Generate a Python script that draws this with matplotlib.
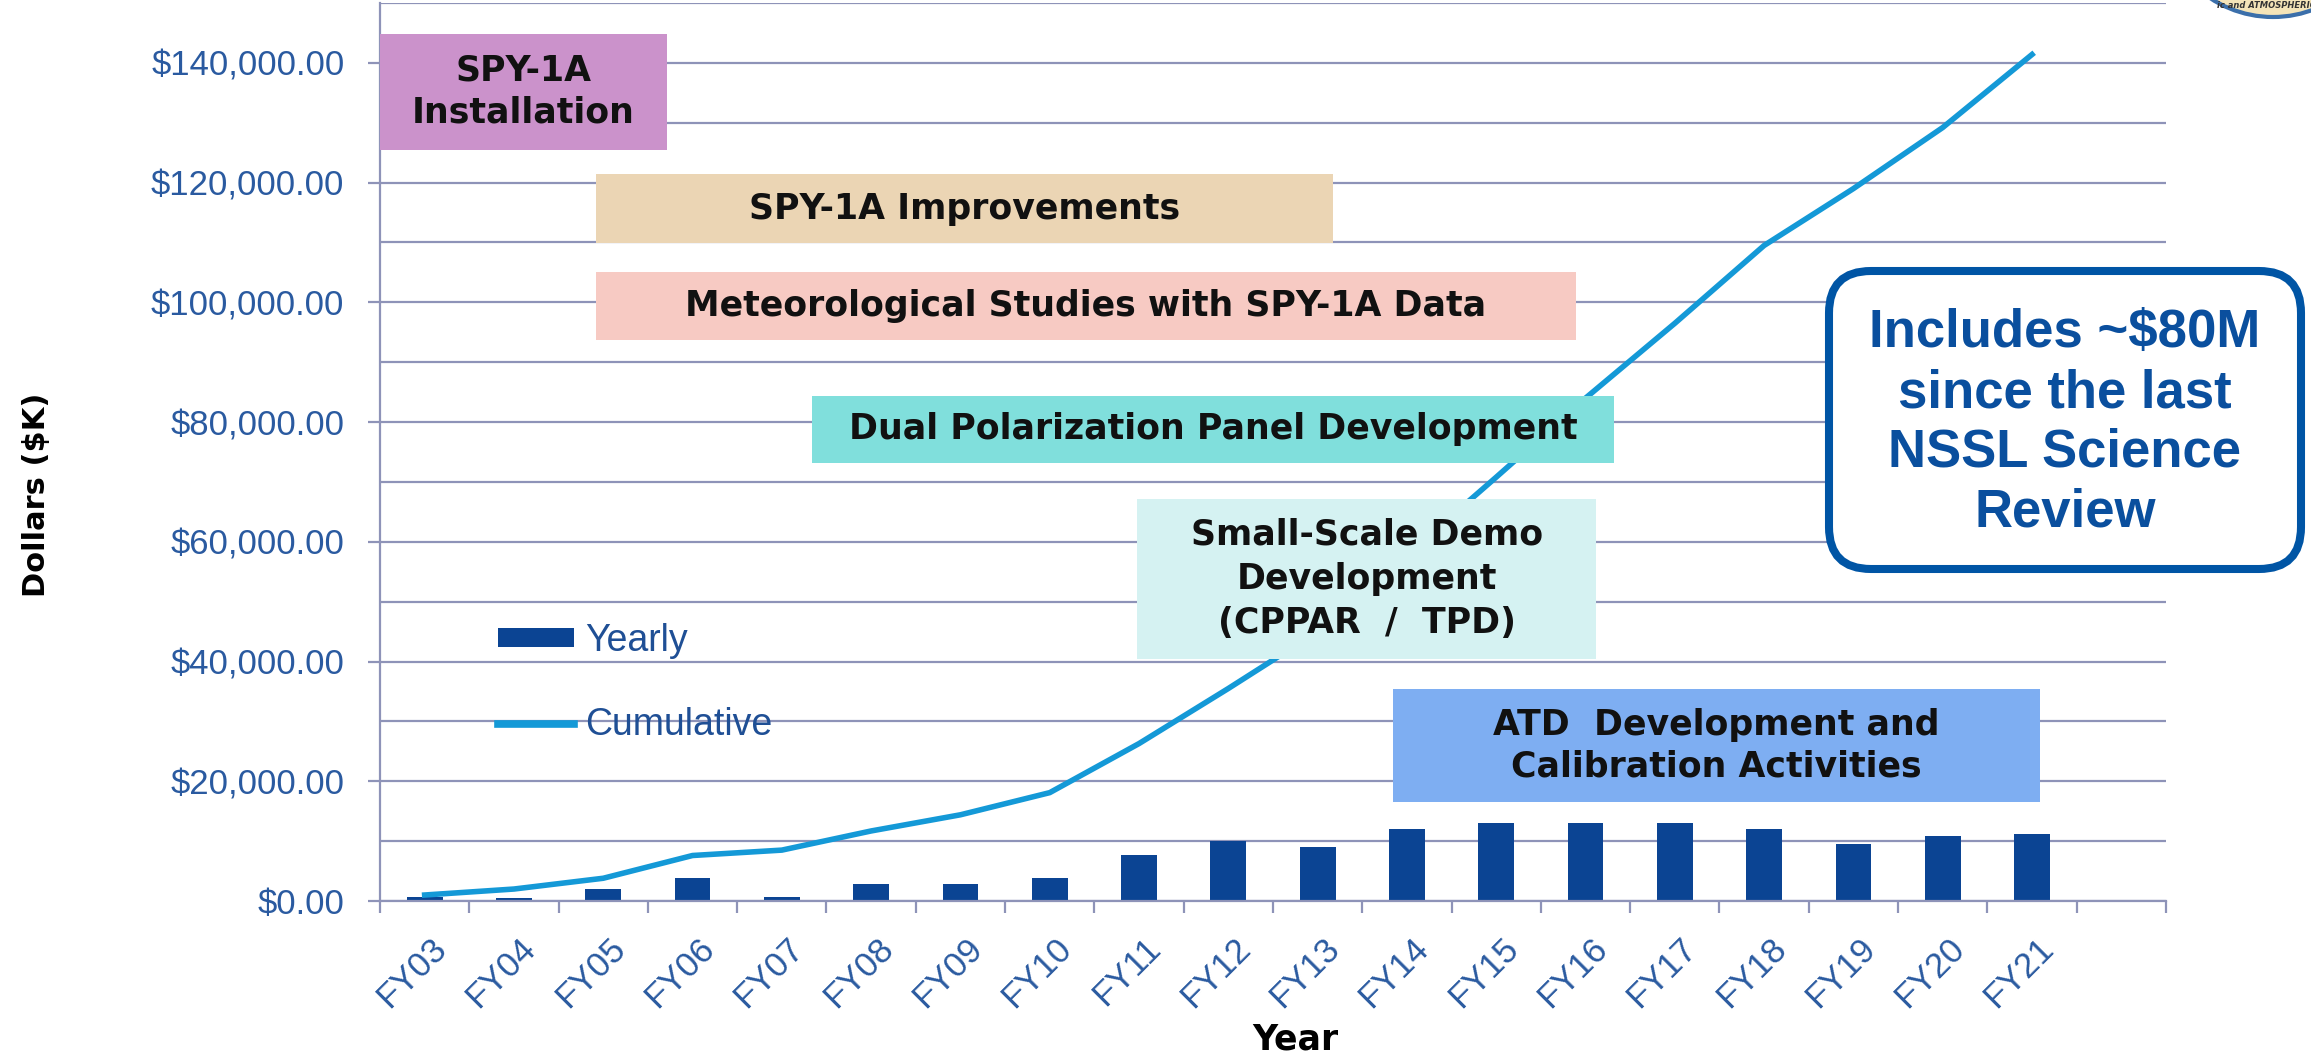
import numpy as np
import matplotlib
matplotlib.use("Agg")
import matplotlib.pyplot as plt
from matplotlib.patches import Rectangle, FancyBboxPatch, Circle
from matplotlib.ticker import FixedLocator, MultipleLocator, FuncFormatter
from matplotlib.transforms import ScaledTranslation

# data (values in $K)
years = ['FY03', 'FY04', 'FY05', 'FY06', 'FY07', 'FY08', 'FY09', 'FY10', 'FY11', 'FY12',
         'FY13', 'FY14', 'FY15', 'FY16', 'FY17', 'FY18', 'FY19', 'FY20', 'FY21']
yearly = [700, 500, 2000, 3800, 600, 2900, 2900, 3800, 7700, 10000,
          9100, 12100, 13000, 13000, 13000, 12100, 9500, 10800, 11200]
cumulative = [1000, 2000, 3800, 7600, 8500, 11700, 14400, 18100, 26300, 35500,
              45000, 57800, 70800, 84000, 96500, 109500, 119000, 129200, 141400]

# program phases drawn as boxes: (text, x from, x to, y from, y to, colour)
phases = [
    ('SPY-1A\nInstallation', -0.5, 2.71, 125500, 144800, '#CB92CB'),
    ('SPY-1A Improvements', 1.92, 10.17, 109900, 121400, '#EBD5B4'),
    ('Meteorological Studies with SPY-1A Data', 1.92, 12.89, 93700, 105100, '#F7CAC3'),
    ('Dual Polarization Panel Development', 4.34, 13.32, 73200, 84400, '#80DFDC'),
    ('Small-Scale Demo\nDevelopment\n(CPPAR  /  TPD)', 7.98, 13.12, 40400, 67200, '#D5F2F2'),
    ('ATD  Development and\nCalibration Activities', 10.84, 18.09, 16500, 35400, '#7EAEF2'),
]

GRID = '#8E93B8'
TICK_BLUE = '#2A5AA0'

fig = plt.figure(figsize=(23.11, 10.56), dpi=100)
ax = fig.add_axes([0.16443, 0.14678, 0.77282, 0.85038])

x = np.arange(len(years))
bars = ax.bar(x, yearly, width=0.4, color='#0B4493', zorder=2, label='Yearly')
line, = ax.plot(x, cumulative, color='#1499D7', lw=4, zorder=3, label='Cumulative')

ax.set_xlim(-0.5, 19.5)
ax.set_ylim(0, 150000)

# y axis
ax.yaxis.set_major_locator(FixedLocator(np.arange(0, 140001, 20000)))
ax.yaxis.set_minor_locator(MultipleLocator(10000))
ax.yaxis.set_major_formatter(FuncFormatter(lambda v, p: f"${v:,.2f}"))
ax.tick_params(axis='y', which='major', length=8.6, width=1.6, color=GRID,
               pad=17, labelsize=25, labelcolor=TICK_BLUE)
ax.tick_params(axis='y', which='minor', length=0)
ax.grid(axis='y', which='both', color=GRID, lw=1.6)
ax.set_axisbelow(True)

# x axis: labels at centres, ticks between categories
ax.xaxis.set_major_locator(FixedLocator(np.arange(20)))
ax.set_xticklabels(years + [''])
ax.xaxis.set_minor_locator(FixedLocator(np.arange(-0.5, 20, 1)))
ax.tick_params(axis='x', which='major', length=0, pad=22, labelsize=25, labelcolor=TICK_BLUE)
ax.tick_params(axis='x', which='minor', length=8.6, width=1.6, color=GRID)
shift = ScaledTranslation(0.05, 0, fig.dpi_scale_trans)
for lab in ax.get_xticklabels():
    lab.set_rotation(45)
    lab.set_ha('right')
    lab.set_va('top')
    lab.set_rotation_mode('anchor')
    lab.set_transform(lab.get_transform() + shift)
for lab in ax.get_xticklabels() + ax.get_yticklabels():
    lab.set_family('Liberation Sans')

for s in ['top', 'right']:
    ax.spines[s].set_visible(False)
for s in ['left', 'bottom']:
    ax.spines[s].set_color(GRID)
    ax.spines[s].set_linewidth(1.6)

for text, x0, x1, y0, y1, col in phases:
    ax.add_patch(Rectangle((x0, y0), x1 - x0, y1 - y0, facecolor=col, edgecolor='none',
                           zorder=4, clip_on=False))
    ax.text((x0 + x1) / 2, (y0 + y1) / 2, text, ha='center', va='center', zorder=5,
            fontsize=25, fontweight='bold', family='DejaVu Sans', color='#111111',
            linespacing=1.38 if text.count('\n') == 2 else 1.3)

leg = ax.legend(handles=[bars, line], loc='upper left', frameon=False,
                bbox_to_anchor=(4.98, 4.33), bbox_transform=fig.dpi_scale_trans,
                borderpad=0, borderaxespad=0, handlelength=2.03, handleheight=0.4,
                handletextpad=0.3, labelspacing=1.29,
                prop={'family': 'Liberation Sans', 'size': 27})
for t in leg.get_texts():
    t.set_color('#1F4F95')
leg.get_lines()[0].set_linewidth(5.5)
leg.set_zorder(6)

# axis titles
fig.text(0.37, 5.61, 'Dollars ($K)', transform=fig.dpi_scale_trans, rotation=90,
         ha='center', va='center', fontsize=22, fontweight='bold', family='DejaVu Sans')
fig.text(12.95, 0.16, 'Year', transform=fig.dpi_scale_trans, ha='center', va='center',
         fontsize=25, fontweight='bold', family='DejaVu Sans')

# call-out box
fig.add_artist(FancyBboxPatch((18.29, 4.87), 4.72, 2.98,
                              boxstyle='round,pad=0,rounding_size=0.42',
                              transform=fig.dpi_scale_trans, facecolor='white',
                              edgecolor='#0055A5', lw=5.8, zorder=7))
fig.text(20.65, 6.33, 'Includes ~$80M\nsince the last\nNSSL Science\nReview',
         transform=fig.dpi_scale_trans, ha='center', va='center', zorder=8,
         fontsize=38, fontweight='bold', family='Liberation Sans', color='#0A4F9E',
         linespacing=1.25)

# corner of the logo peeking in
fig.add_artist(Circle((22.73, 11.53), 1.14, transform=fig.dpi_scale_trans,
                      facecolor='#F4E4B8', edgecolor='#3B6FAA', lw=3))
fig.text(22.66, 10.50, 'ic and ATMOSPHERIC', transform=fig.dpi_scale_trans,
         ha='center', va='center', fontsize=6, fontstyle='italic', fontweight='bold',
         color='#333333')

fig.savefig('out.png', dpi=100)
